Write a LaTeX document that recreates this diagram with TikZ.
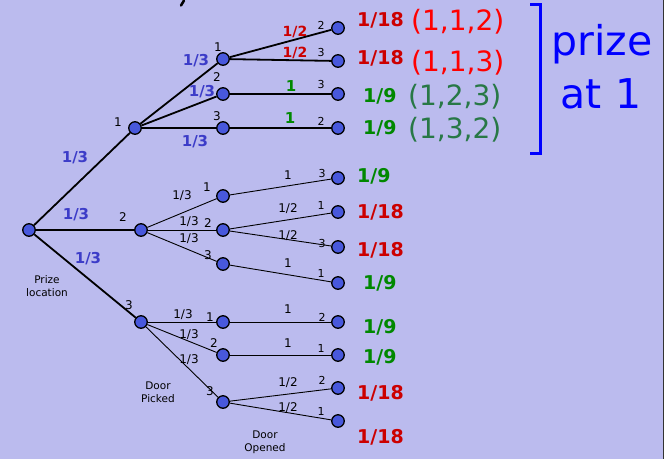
\documentclass[tikz,border=0pt]{standalone}
\usepackage{fontspec}
\setmainfont{DejaVu Sans}
\definecolor{bg}{RGB}{187,187,238}
\definecolor{nodeblue}{RGB}{72,88,220}
\definecolor{lblue}{RGB}{60,60,200}
\definecolor{dred}{RGB}{204,0,0}
\definecolor{bred}{RGB}{255,0,0}
\definecolor{dgreen}{RGB}{0,136,0}
\definecolor{tgreen}{RGB}{40,120,70}
\definecolor{pblue}{RGB}{0,0,255}
\tikzset{
  treenode/.style={circle, draw=black, line width=1.3pt, fill=nodeblue, minimum size=12.5pt, inner sep=0pt},
  edgethick/.style={line width=1.8pt},
  edgethin/.style={line width=0.9pt},
  blab/.style={text=lblue, font=\fontsize{15}{15}\selectfont\bfseries, inner sep=0pt},
  rlab/.style={text=dred, font=\fontsize{14}{14}\selectfont\bfseries, inner sep=0pt},
  glab/.style={text=dgreen, font=\fontsize{15}{15}\selectfont\bfseries, inner sep=0pt},
  slab/.style={font=\fontsize{12}{12}\selectfont, inner sep=0pt},
  tlab/.style={font=\fontsize{11}{11}\selectfont, inner sep=0pt},
  caption/.style={font=\fontsize{10.5}{13}\selectfont, align=center, inner sep=0pt},
  probred/.style={text=dred, font=\fontsize{19}{19}\selectfont\bfseries, inner sep=0pt, anchor=west},
  probgreen/.style={text=dgreen, font=\fontsize{19}{19}\selectfont\bfseries, inner sep=0pt, anchor=west},
  tuple/.style={font=\fontsize{28}{28}\selectfont, inner sep=0pt, anchor=west},
  bigtext/.style={text=pblue, font=\fontsize{41}{41}\selectfont, inner sep=0pt, anchor=base}
}
\begin{document}
\begin{tikzpicture}[x=1pt,y=-1pt]
\useasboundingbox (0,0) rectangle (669,459);
\fill[white] (0,0) rectangle (669,459);
\fill[bg] (0,0) rectangle (663,459);
\draw[line width=1.2pt, black!80] (663.5,0) -- (663.5,459);
\draw[line width=2.5pt, line cap=round] (184,0.5) -- (181,5.5);

% nodes
\node[treenode] (r) at (29,230) {};
\node[treenode] (n1) at (135,128) {};
\node[treenode] (n2) at (141,230) {};
\node[treenode] (n3) at (141,322) {};
\node[treenode] (a1) at (223,59) {};
\node[treenode] (a2) at (223,94) {};
\node[treenode] (a3) at (223,128) {};
\node[treenode] (b1) at (223,196) {};
\node[treenode] (b2) at (223,230) {};
\node[treenode] (b3) at (223,264) {};
\node[treenode] (c1) at (223,322) {};
\node[treenode] (c2) at (223,355) {};
\node[treenode] (c3) at (223,402) {};
\node[treenode] (l1) at (338,28) {};
\node[treenode] (l2) at (338,61) {};
\node[treenode] (l3) at (338,94) {};
\node[treenode] (l4) at (338,128) {};
\node[treenode] (l5) at (338,178) {};
\node[treenode] (l6) at (338,212) {};
\node[treenode] (l7) at (338,247) {};
\node[treenode] (l8) at (338,283) {};
\node[treenode] (l9) at (338,322) {};
\node[treenode] (l10) at (338,355) {};
\node[treenode] (l11) at (338,388) {};
\node[treenode] (l12) at (338,421) {};

% edges
\draw[edgethick] (r) -- (n1);
\draw[edgethick] (r) -- (n2);
\draw[edgethick] (r) -- (n3);
\draw[edgethick] (n1) -- (a1);
\draw[edgethick] (n1) -- (a2);
\draw[edgethick] (n1) -- (a3);
\draw[edgethick] (a1) -- (l1);
\draw[edgethick] (a1) -- (l2);
\draw[edgethick] (a2) -- (l3);
\draw[edgethick] (a3) -- (l4);
\draw[edgethin] (n2) -- (b1);
\draw[edgethin] (n2) -- (b2);
\draw[edgethin] (n2) -- (b3);
\draw[edgethin] (b1) -- (l5);
\draw[edgethin] (b2) -- (l6);
\draw[edgethin] (b2) -- (l7);
\draw[edgethin] (b3) -- (l8);
\draw[edgethin] (n3) -- (c1);
\draw[edgethin] (n3) -- (c2);
\draw[edgethin] (n3) -- (c3);
\draw[edgethin] (c1) -- (l9);
\draw[edgethin] (c2) -- (l10);
\draw[edgethin] (c3) -- (l11);
\draw[edgethin] (c3) -- (l12);

% root edge labels
\node[blab] (p1) at (75,158) {1/3};
\node[blab] (p2) at (76,215) {1/3};
\node[blab] (p3) at (88,259) {1/3};
\node[slab] (d1) at (118,122) {1};
\node[slab] (d2) at (123,217) {2};
\node[slab] (d3) at (129,305) {3};
\node[caption] (pl) at (47,286) {Prize\\location};

% top subtree labels
\node[blab] (q1) at (196,61) {1/3};
\node[blab] (q2) at (202,92) {1/3};
\node[blab] (q3) at (195,142) {1/3};
\node[slab] (e1) at (218,47) {1};
\node[slab] (e2) at (217,77) {2};
\node[slab] (e3) at (217,116) {3};
\node[rlab] (h1) at (295,32) {1/2};
\node[rlab] (h2) at (295,53) {1/2};
\node[glab] (h3) at (291,86) {1};
\node[glab] (h4) at (290,118) {1};
\node[tlab] (f1) at (321,25) {2};
\node[tlab] (f2) at (321,52) {3};
\node[tlab] (f3) at (321,84) {3};
\node[tlab] (f4) at (321,121) {2};

% middle subtree labels
\node[slab] (q4) at (182,196) {1/3};
\node[slab] (q5) at (189,222) {1/3};
\node[slab] (q6) at (189,239) {1/3};
\node[slab] (e4) at (207,187) {1};
\node[slab] (e5) at (208,223) {2};
\node[slab] (e6) at (208,255) {3};
\node[slab] (h5) at (288,175) {1};
\node[slab] (h6) at (288,209) {1/2};
\node[slab] (h7) at (288,236) {1/2};
\node[slab] (h8) at (288,263) {1};
\node[tlab] (f5) at (322,173) {3};
\node[tlab] (f6) at (321,205) {1};
\node[tlab] (f7) at (322,243) {3};
\node[tlab] (f8) at (321,273) {1};

% bottom subtree labels
\node[slab] (q7) at (183,315) {1/3};
\node[slab] (q8) at (189,335) {1/3};
\node[slab] (q9) at (189,360) {1/3};
\node[slab] (e7) at (210,317) {1};
\node[slab] (e8) at (214,343) {2};
\node[slab] (e9) at (210,391) {3};
\node[slab] (h9) at (288,309) {1};
\node[slab] (h10) at (288,343) {1};
\node[slab] (h11) at (288,383) {1/2};
\node[slab] (h12) at (288,408) {1/2};
\node[tlab] (f9) at (322,317) {2};
\node[tlab] (f10) at (321,348) {1};
\node[tlab] (f11) at (322,380) {2};
\node[tlab] (f12) at (321,411) {1};
\node[caption] (dp) at (158,392) {Door\\Picked};
\node[caption] (do) at (265,442) {Door\\Opened};

% leaf probabilities
\node[probred] (v1) at (357,20) {1/18};
\node[probred] (v2) at (357,58) {1/18};
\node[probgreen] (v3) at (363,96) {1/9};
\node[probgreen] (v4) at (363,128) {1/9};
\node[probgreen] (v5) at (357,176) {1/9};
\node[probred] (v6) at (357,212) {1/18};
\node[probred] (v7) at (357,250) {1/18};
\node[probgreen] (v8) at (363,283) {1/9};
\node[probgreen] (v9) at (363,327) {1/9};
\node[probgreen] (v10) at (363,357) {1/9};
\node[probred] (v11) at (357,393) {1/18};
\node[probred] (v12) at (357,437) {1/18};

% tuples
\node[tuple, text=bred] (t1) at (411,22) {(1,1,2)};
\node[tuple, text=bred] (t2) at (411,63) {(1,1,3)};
\node[tuple, text=tgreen] (t3) at (408,97) {(1,2,3)};
\node[tuple, text=tgreen] (t4) at (408,130) {(1,3,2)};

% bracket and caption
\draw[pblue, line width=3pt] (530,4) -- (540,4) -- (540,153) -- (530,153);
\node[bigtext] (pz) at (602,55) {prize};
\node[bigtext] (at) at (601,108) {at 1};
\end{tikzpicture}
\end{document}
